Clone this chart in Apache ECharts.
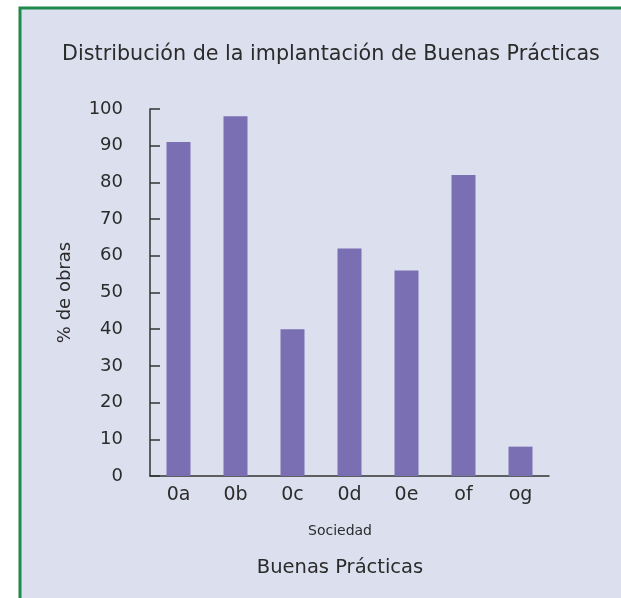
<!DOCTYPE html>
<html>
<head>
<meta charset="utf-8">
<script src="https://cdn.jsdelivr.net/npm/echarts@6/dist/echarts.min.js"></script>
<style>
  html, body { margin: 0; padding: 0; background: #fff; }
  #chart { width: 621px; height: 598px; }
</style>
</head>
<body>
<div id="chart"></div>
<script>
  const chart = echarts.init(document.getElementById('chart'))

  const practicas = ['0a', '0b', '0c', '0d', '0e', 'of', 'og']
  const obras = [91, 98, 40, 62, 56, 82, 8]

  const txt = '#2b2b2b'
  const font = 'DejaVu Sans'

  const option = {
    backgroundColor: '#ffffff',
    graphic: [
      {
        type: 'rect',
        z: -10,
        shape: { x: 20, y: 8, width: 700, height: 700 },
        style: { fill: '#dce0ee', stroke: '#1f8a4c', lineWidth: 3 },
      },
    ],
    title: [
      {
        text: 'Distribución de la implantación de Buenas Prácticas',
        left: 326,
        top: 39,
        textAlign: 'center',
        textStyle: { fontFamily: font, fontSize: 20.7, fontWeight: 'normal', color: txt },
      },
      {
        text: 'Sociedad',
        left: 335,
        top: 519,
        textAlign: 'center',
        textStyle: { fontFamily: font, fontSize: 14, fontWeight: 'normal', color: txt },
      },
      {
        text: 'Buenas Prácticas',
        left: 335,
        top: 553,
        textAlign: 'center',
        textStyle: { fontFamily: font, fontSize: 19.5, fontWeight: 'normal', color: txt },
      },
    ],
    grid: {
      left: 150,
      right: 72,
      top: 109,
      bottom: 122,
      containLabel: false,
    },
    xAxis: {
      type: 'category',
      data: practicas,
      boundaryGap: true,
      axisLine: { lineStyle: { color: '#333', width: 1.5 } },
      axisTick: { inside: true, length: 8, lineStyle: { color: '#333', width: 1.5 } },
      axisLabel: { margin: 10, fontFamily: font, fontSize: 19, color: txt },
    },
    yAxis: {
      type: 'value',
      min: 0,
      max: 100,
      interval: 10,
      name: '% de obras',
      nameLocation: 'middle',
      nameRotate: 90,
      nameGap: 76,
      nameTextStyle: { fontFamily: font, fontSize: 18, color: txt },
      splitLine: { show: false },
      axisLine: { show: true, lineStyle: { color: '#333', width: 1.5 } },
      axisTick: { show: true, inside: true, length: 10, lineStyle: { color: '#333', width: 1.5 } },
      axisLabel: { margin: 27, fontFamily: font, fontSize: 18, color: txt, padding: [0, 0, 5, 0] },
    },
    series: [
      {
        name: '% de obras',
        type: 'bar',
        data: obras,
        barWidth: 24,
        itemStyle: { color: '#7b6fb4' },
      },
    ],
  }

  chart.setOption(option)
</script>
</body>
</html>
